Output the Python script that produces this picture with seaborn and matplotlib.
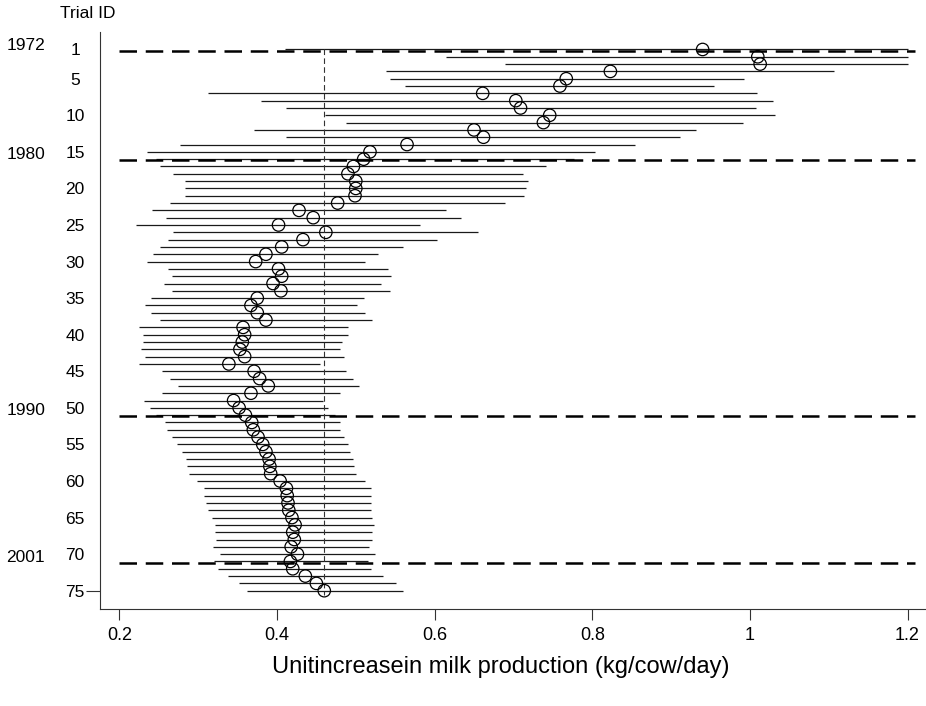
import numpy as np
import pandas as pd
import matplotlib
matplotlib.use('Agg')
import matplotlib.pyplot as plt
import matplotlib.transforms as mtransforms
import seaborn as sns

# cumulative estimates per trial
trial = list(range(1, 76))
est = [0.940, 1.010, 1.013, 0.823, 0.767, 0.759, 0.661, 0.703, 0.709, 0.746,
       0.738, 0.650, 0.662, 0.565, 0.518, 0.510, 0.497, 0.490, 0.500, 0.500,
       0.499, 0.477, 0.428, 0.446, 0.402, 0.462, 0.433, 0.406, 0.386, 0.373,
       0.402, 0.406, 0.395, 0.405, 0.375, 0.367, 0.375, 0.386, 0.357, 0.359,
       0.356, 0.353, 0.359, 0.339, 0.371, 0.378, 0.389, 0.367, 0.345, 0.352,
       0.360, 0.368, 0.370, 0.376, 0.382, 0.386, 0.390, 0.391, 0.392, 0.404,
       0.412, 0.413, 0.414, 0.415, 0.419, 0.423, 0.420, 0.422, 0.418, 0.426,
       0.417, 0.420, 0.436, 0.450, 0.460]
lower = [0.410, 0.614, 0.689, 0.538, 0.543, 0.562, 0.313, 0.380, 0.411, 0.461,
         0.488, 0.371, 0.412, 0.277, 0.235, 0.247, 0.251, 0.268, 0.283, 0.283,
         0.283, 0.264, 0.242, 0.259, 0.221, 0.268, 0.262, 0.252, 0.243, 0.235,
         0.262, 0.267, 0.257, 0.267, 0.240, 0.232, 0.240, 0.251, 0.225, 0.230,
         0.230, 0.227, 0.233, 0.225, 0.254, 0.264, 0.274, 0.254, 0.231, 0.239,
         0.247, 0.258, 0.261, 0.267, 0.273, 0.279, 0.284, 0.286, 0.288, 0.298,
         0.307, 0.307, 0.310, 0.313, 0.317, 0.322, 0.321, 0.323, 0.319, 0.328,
         0.320, 0.325, 0.338, 0.352, 0.362]
upper = [1.200, 1.200, 1.200, 1.107, 0.993, 0.955, 1.009, 1.029, 1.008, 1.032,
         0.991, 0.931, 0.911, 0.854, 0.804, 0.777, 0.741, 0.712, 0.718, 0.716,
         0.714, 0.689, 0.615, 0.633, 0.582, 0.655, 0.603, 0.560, 0.528, 0.512,
         0.541, 0.545, 0.532, 0.544, 0.510, 0.502, 0.512, 0.520, 0.490, 0.490,
         0.483, 0.480, 0.485, 0.454, 0.488, 0.496, 0.504, 0.480, 0.458, 0.465,
         0.474, 0.480, 0.480, 0.485, 0.490, 0.493, 0.497, 0.498, 0.500, 0.512,
         0.519, 0.519, 0.519, 0.519, 0.521, 0.523, 0.521, 0.521, 0.517, 0.525,
         0.516, 0.519, 0.534, 0.551, 0.560]

ytick_trials = [1, 5, 10, 15, 20, 25, 30, 35, 40, 45, 50, 55, 60, 65, 70, 75]
xticks = [0.2, 0.4, 0.6, 0.8, 1.0, 1.2]
xtick_labels = ['0.2', '0.4', '0.6', '0.8', '1', '1.2']
years = ['1972', '1980', '1990', '2001']
year_start = [1, 16, 51, 71]

sns.set_theme(style='ticks')
plt.rcParams['font.family'] = ['Liberation Sans', 'DejaVu Sans']

df = pd.DataFrame({'trial': trial, 'est': est, 'lower': lower, 'upper': upper})

fig = plt.figure(figsize=(9.26, 7.06), dpi=100)
ax = fig.add_axes([0.108, 0.1374, 0.892, 0.8173])

# confidence intervals
ax.hlines(df['trial'], df['lower'], df['upper'], colors='#1a1a1a', lw=0.9)

# point estimates as open circles
sns.scatterplot(data=df, x='est', y='trial', ax=ax, s=80, marker='o',
                legend=False, zorder=3)
pts = ax.collections[-1]
pts.set_facecolor('none')
pts.set_edgecolor('black')
pts.set_linewidth(0.9)

# decade separators
ax.hlines([s + 0.15 for s in year_start], 0.2, 1.21, colors='black', lw=1.8,
          linestyles=(0, (7, 3.5)))
# pooled estimate
ax.vlines(est[-1], 1, 75.6, colors='#333333', lw=0.8, linestyles=(0, (5, 3)))

trans = mtransforms.blended_transform_factory(ax.transAxes, ax.transData)
for yr, s in zip(years, year_start):
    ax.text(-0.09, s - 0.6, yr, transform=trans, ha='center', va='center',
            fontsize=12.5, color='black')

ax.text(-0.0145, 1.032, 'Trial ID', transform=ax.transAxes, ha='center',
        va='center', fontsize=12.5, color='black')

ax.set_xlim(0.1755, 1.2234)
ax.set_ylim(77.5, -1.39)
ax.set_xticks(xticks)
ax.set_xticklabels(xtick_labels)
ax.set_yticks(ytick_trials)
ax.set_yticklabels([str(t) for t in ytick_trials])
for lbl in ax.get_yticklabels():
    lbl.set_ha('center')
ax.yaxis.remove_overlapping_locs = False
ax.set_yticks([75], minor=True)

ax.tick_params(axis='x', length=8, width=0.8, pad=5, labelsize=13,
               color='#333333', labelcolor='black')
ax.tick_params(axis='y', which='major', length=0, pad=18, labelsize=12.5,
               labelcolor='black')
ax.tick_params(axis='y', which='minor', length=10, width=0.8, color='#333333',
               left=True)

for side in ['top', 'right']:
    ax.spines[side].set_visible(False)
for side in ['left', 'bottom']:
    ax.spines[side].set_color('#333333')
    ax.spines[side].set_linewidth(0.8)

ax.set_xlabel('Unitincreasein milk production (kg/cow/day)', fontsize=17,
              va='center', color='black')
ax.xaxis.set_label_coords(0.485, -0.1005)
ax.set_ylabel('')

fig.savefig('out.png', dpi=100)
